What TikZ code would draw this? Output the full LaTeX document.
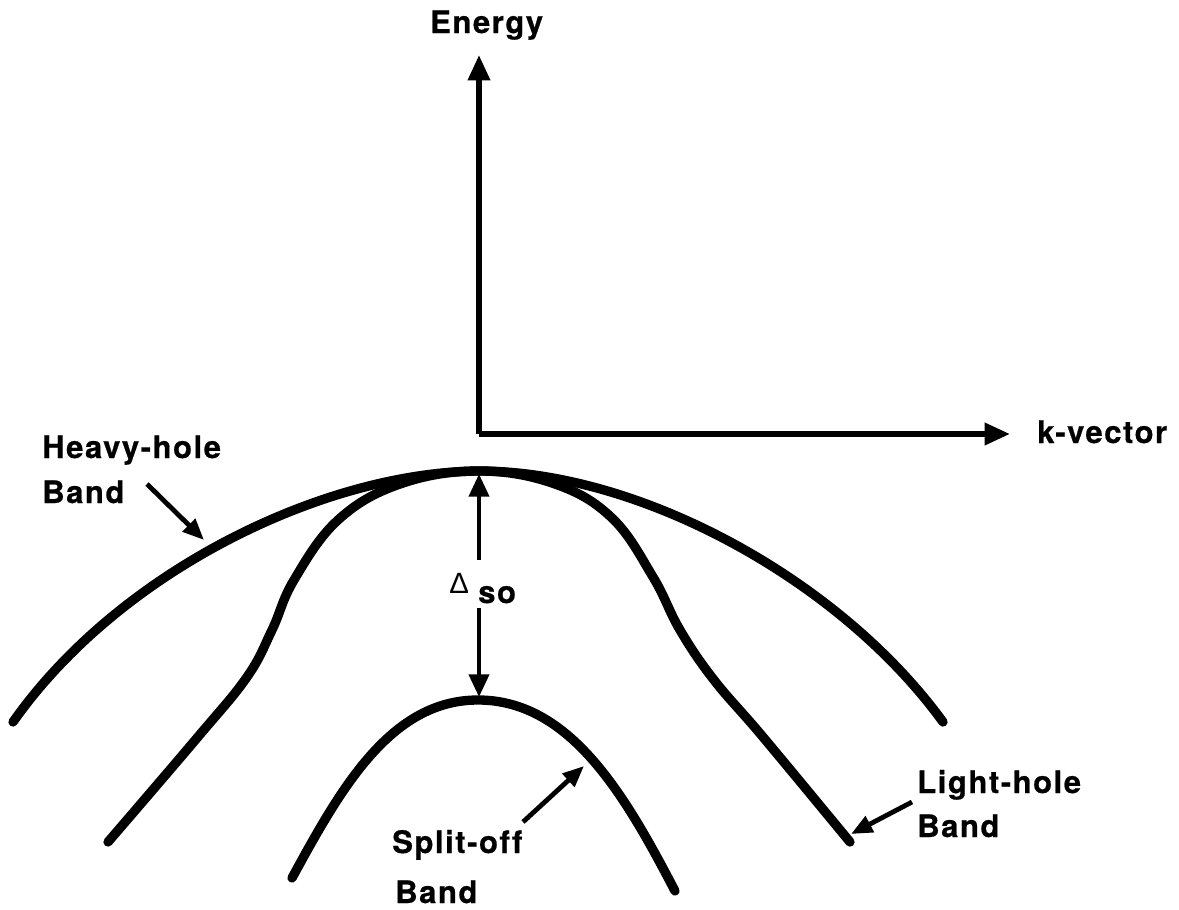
\documentclass[tikz,border=0pt]{standalone}
\usepackage{fontspec}
\setmainfont{TeX Gyre Heros}
\newfontfamily\deltafont{Liberation Sans}
\usetikzlibrary{arrows.meta}
\begin{document}
\begin{tikzpicture}[x=0.75pt,y=-0.75pt,
  lbl/.style={inner sep=0pt,anchor=base west,font=\fontsize{23.25}{28}\selectfont\bfseries\addfontfeatures{LetterSpace=5,FakeBold=0.6,Ligatures=NoCommon}},
  band/.style={line width=7pt,line cap=round,line join=round},
  axis/.style={line width=4.3pt,-{Triangle[length=19pt,width=16pt]}},
  ptr/.style={line width=3.6pt,-{Triangle[length=16pt,width=13pt]}},
  gap/.style={line width=3pt,-{Triangle[length=17pt,width=15pt]}}]
\useasboundingbox (0,0) rectangle (1179,910);
% axes
\coordinate (O) at (479,434);
\coordinate (Etip) at (479,55);
\coordinate (ktip) at (1010,434);
\draw[axis] (O) -- (Etip);
\draw[axis] (O) -- (ktip);
\node[lbl] (energy) at (430,33) {Energy};
\node[lbl] (kvec) at (1037,443) {k-vector};
% heavy-hole band
\draw[band] (13,722) .. controls (120,570) and (325,472) .. (479,471)
                     .. controls (640,471) and (840,580) .. (943,722);
% light-hole band
\draw[band] plot[smooth,tension=0.65] coordinates {(108,842) (197,738) (247,677) (272,630) (294,580) (338,520) (400,484) (479,471) (555,484) (612,518) (653,577) (680,630) (714,680) (763,737) (850,842)};
% split-off band
\draw[band] (292,878) .. controls (340,790) and (390,700) .. (478,700)
                      .. controls (570,700) and (625,795) .. (675,891);
% Delta_so
\coordinate (gtop) at (479,474);
\coordinate (gbot) at (479,697);
\coordinate (gm1) at (479,560);
\coordinate (gm2) at (479,608);
\draw[gap] (gm1) -- (gtop);
\draw[gap] (gm2) -- (gbot);
\node[inner sep=0pt,anchor=base west,font=\fontsize{22}{26}\selectfont\deltafont] (delta) at (449,593) {Δ};
\node[lbl] (so) at (478,603) {so};
% labels
\node[lbl] (hh1) at (42,458) {Heavy-hole};
\node[lbl] (hh2) at (42,503) {Band};
\node[lbl] (lh1) at (917,793) {Light-hole};
\node[lbl] (lh2) at (917,837) {Band};
\node[lbl] (so1) at (392,853) {Split-off};
\node[lbl] (so2) at (395,903) {Band};
% pointers
\coordinate (hht) at (147,484);
\coordinate (hhh) at (204,540);
\draw[ptr] (hht) -- (hhh);
\coordinate (lht) at (912,802);
\coordinate (lhh) at (851,834);
\draw[ptr] (lht) -- (lhh);
\coordinate (sot) at (523,822);
\coordinate (soh) at (584,766);
\draw[ptr] (sot) -- (soh);
\end{tikzpicture}
\end{document}
